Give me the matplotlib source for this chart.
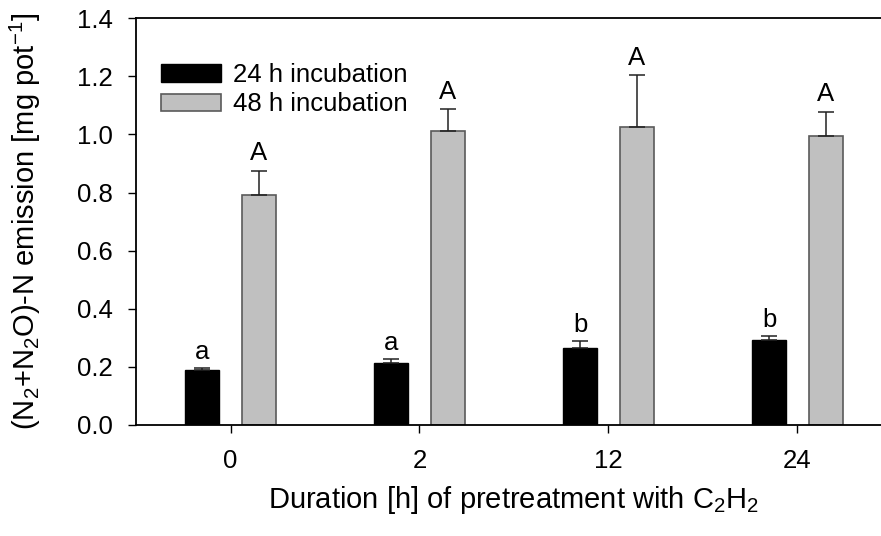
import numpy as np
import matplotlib
matplotlib.use("Agg")
import matplotlib.pyplot as plt

plt.rcParams['font.family'] = ['Liberation Sans', 'DejaVu Sans']
plt.rcParams['mathtext.fontset'] = 'custom'
plt.rcParams['mathtext.rm'] = 'Liberation Sans'
plt.rcParams['mathtext.it'] = 'Liberation Sans:italic'
plt.rcParams['mathtext.default'] = 'regular'

# pretreatment durations and emissions per incubation time
durations = ['0', '2', '12', '24']
mean_24h = [0.189, 0.213, 0.264, 0.292]
se_24h = [0.007, 0.015, 0.025, 0.013]
letters_24h = ['a', 'a', 'b', 'b']
mean_48h = [0.791, 1.012, 1.025, 0.996]
se_48h = [0.083, 0.075, 0.179, 0.081]
letters_48h = ['A', 'A', 'A', 'A']

fig = plt.figure(figsize=(8.81, 5.36), dpi=100)
ax = fig.add_axes([0.1544, 0.2071, 0.858, 0.759])

x = np.arange(len(durations))
w = 0.18
off = 0.15

err_kw = dict(ecolor='#222222', elinewidth=1.1, capsize=6, capthick=1.1)
ax.bar(x - off, mean_24h, w, color='black', edgecolor='black', linewidth=1,
       yerr=[np.zeros(len(x)), se_24h], error_kw=err_kw, label='24 h incubation')
ax.bar(x + off, mean_48h, w, color='#c0c0c0', edgecolor='#5a5a5a', linewidth=1.2,
       yerr=[np.zeros(len(x)), se_48h], error_kw=err_kw, label='48 h incubation')

for xi, m, s, t in zip(x - off, mean_24h, se_24h, letters_24h):
    ax.annotate(t, (xi, m + s), xytext=(0, 3), textcoords='offset points',
                ha='center', va='bottom', fontsize=18.5)
for xi, m, s, t in zip(x + off, mean_48h, se_48h, letters_48h):
    ax.annotate(t, (xi, m + s), xytext=(0, 4), textcoords='offset points',
                ha='center', va='bottom', fontsize=18.5)

ax.set_xlim(-0.5, 3.5)
ax.set_ylim(0, 1.4)
ax.set_yticks(np.arange(0, 1.41, 0.2))
ax.set_yticklabels([f'{v:.1f}' for v in np.arange(0, 1.41, 0.2)])
ax.set_xticks(x)
ax.set_xticklabels(durations)
ax.tick_params(labelsize=18.5, length=6, width=1, direction='out')
ax.tick_params(axis='x', pad=11)
ax.tick_params(axis='y', pad=11)
for s in ax.spines.values():
    s.set_linewidth(1.3)

ax.set_xlabel('Duration [h] of pretreatment with C$_2$H$_2$', fontsize=21, labelpad=8)
ax.set_ylabel('(N$_2$+N$_2$O)-N emission [mg pot$^{-1}$]', fontsize=21, labelpad=24)

ax.legend(loc='upper left', bbox_to_anchor=(0.02, 0.915), frameon=False,
          fontsize=18.5, handlelength=2.3, handleheight=0.65, labelspacing=0.2,
          handletextpad=0.5, borderaxespad=0)

fig.savefig('out.png', dpi=100)
